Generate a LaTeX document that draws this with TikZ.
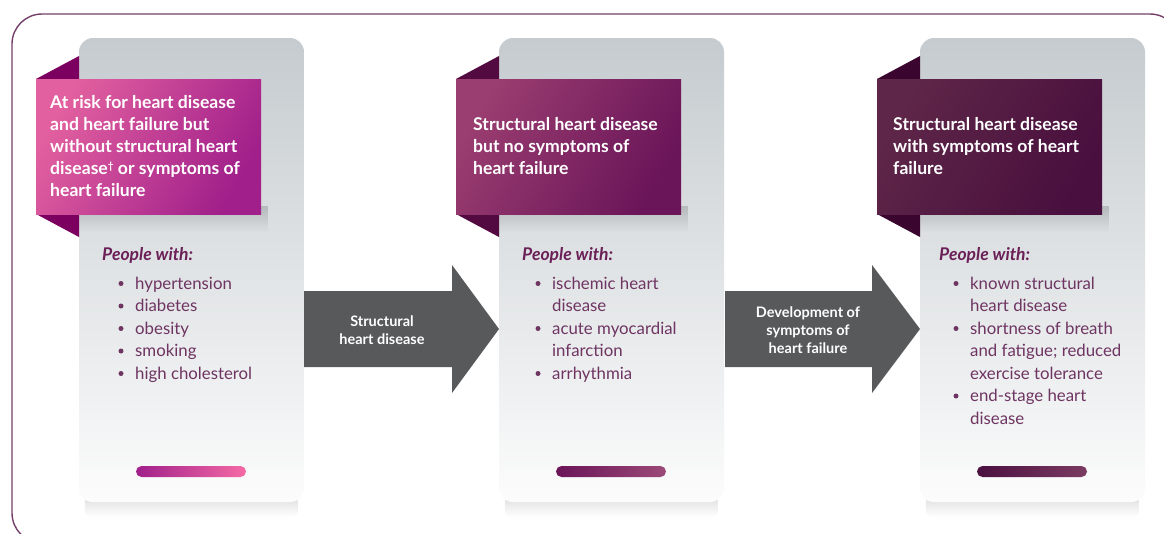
\documentclass[tikz,border=0pt]{standalone}
\usepackage{fontspec}
\setmainfont{Lato}
\usetikzlibrary{fadings}
\definecolor{framec}{HTML}{74406A}
\definecolor{cardtop}{HTML}{C5CBCF}
\definecolor{cardmid}{HTML}{E8EAEC}
\definecolor{cardbot}{HTML}{FCFCFC}
\definecolor{hAa}{HTML}{E2609F}
\definecolor{hAb}{HTML}{A01F8A}
\definecolor{fA}{HTML}{7C0060}
\definecolor{hBa}{HTML}{9A3D70}
\definecolor{hBb}{HTML}{6A1559}
\definecolor{fB}{HTML}{520A40}
\definecolor{hCa}{HTML}{5E2648}
\definecolor{hCb}{HTML}{490F3E}
\definecolor{fC}{HTML}{3A0630}
\definecolor{bAa}{HTML}{A0208A}
\definecolor{bAb}{HTML}{F56AA5}
\definecolor{bBa}{HTML}{6A1558}
\definecolor{bBb}{HTML}{9C4A78}
\definecolor{bCa}{HTML}{4A1040}
\definecolor{bCb}{HTML}{7B3C62}
\definecolor{arrowc}{HTML}{58595B}
\definecolor{pwc}{HTML}{6A1F56}
\definecolor{itemc}{HTML}{6E3462}
\tikzset{
  cardbox/.style={rounded corners=14pt, top color=cardtop, middle color=cardmid, bottom color=cardbot},
  htext/.style={anchor=base west, inner sep=0pt, text=white, font=\fontsize{17.6}{20}\selectfont\bfseries},
  pwtext/.style={anchor=base west, inner sep=0pt, text=pwc, font=\fontsize{17.5}{20}\selectfont\bfseries\itshape},
  itext/.style={anchor=base west, inner sep=0pt, text=itemc, font=\fontsize{16.8}{20}\selectfont},
  atext/.style={anchor=base, inner sep=0pt, text=white, font=\fontsize{14.5}{16}\selectfont\bfseries},
  bigarrow/.style={fill=arrowc},
}
\begin{document}
\begin{tikzpicture}[x=1pt,y=-1pt]
\useasboundingbox (0,0) rectangle (1164,533);
\fill[white] (0,0) rectangle (1164,533);
\begin{scope}
\clip (0,0) rectangle (1164,533);
\draw[framec, line width=1.4pt, rounded corners=30pt] (12,14) rectangle (1180,543);
\end{scope}

% cards
\foreach \x/\ha/\hb/\fc/\ba/\bb in {79/hAa/hAb/fA/bAa/bAb, 499/hBa/hBb/fB/bBa/bBb, 920/hCa/hCb/fC/bCa/bCb}{
  \fill[black, fill opacity=0.13, path fading=south, rounded corners=6pt] (\x+6,496) rectangle (\x+219,517);
  \shade[cardbox] (\x,38) rectangle (\x+225,502);
  \fill[black, fill opacity=0.16, path fading=south] (\x,206) rectangle (\x+189,232);
  \fill[\fc] (\x-43,79) -- (\x,56) -- (\x,79) -- cycle;
  \fill[\fc] (\x-43,214) -- (\x,237) -- (\x,214) -- cycle;
  \shade[top color=\ha, bottom color=\hb, shading angle=60] (\x-43,79) rectangle (\x+182,214);
  \shade[rounded corners=5.5pt, left color=\ba, right color=\bb] (\x+57,466) rectangle (\x+167,477);
}

% header texts
\foreach \t [count=\i] in {At risk for heart disease, and heart failure but, without structural heart, disease{\raisebox{0.45ex}{\fontsize{10}{10}\selectfont †}} or symptoms of, heart failure}
  \node[htext] (hA\i) at (50,{108+22*(\i-1)}) {\t};
\foreach \t [count=\i] in {Structural heart disease, but no symptoms of, heart failure}
  \node[htext] (hB\i) at (473,{130+22*(\i-1)}) {\t};
\foreach \t [count=\i] in {Structural heart disease, with symptoms of heart, failure}
  \node[htext] (hC\i) at (893,{130+22*(\i-1)}) {\t};

% People with
\node[pwtext] (pA) at (102,260) {People with:};
\node[pwtext] (pB) at (522,260) {People with:};
\node[pwtext] (pC) at (939,260) {People with:};

% items
\foreach \b/\t [count=\i] in {1/hypertension, 1/diabetes, 1/obesity, 1/smoking, 1/high cholesterol}{
  \node[itext] (iA\i) at (135,{289+22.5*(\i-1)}) {\t};
  \ifnum\b=1 \fill[itemc] (121,{289+22.5*(\i-1)-5.5}) circle (2.5pt);\fi
}
\foreach \b/\t [count=\i] in {1/ischemic heart, 0/disease, 1/acute myocardial, 0/infarction, 1/arrhythmia}{
  \node[itext] (iB\i) at (552,{289+22.5*(\i-1)}) {\t};
  \ifnum\b=1 \fill[itemc] (538,{289+22.5*(\i-1)-5.5}) circle (2.5pt);\fi
}
\foreach \b/\t [count=\i] in {1/known structural, 0/heart disease, 1/shortness of breath, 0/and fatigue; reduced, 0/exercise tolerance, 1/end-stage heart, 0/disease}{
  \node[itext] (iC\i) at (970,{289+22.5*(\i-1)}) {\t};
  \ifnum\b=1 \fill[itemc] (956,{289+22.5*(\i-1)-5.5}) circle (2.5pt);\fi
}

% arrows
\fill[bigarrow] (304,291) -- (452,291) -- (452,265) -- (499,329) -- (452,393) -- (452,367) -- (304,367) -- cycle;
\fill[bigarrow] (725,291) -- (872,291) -- (872,265) -- (920,329) -- (872,393) -- (872,367) -- (725,367) -- cycle;
\node[atext] (a1) at (382,326) {Structural};
\node[atext] (a2) at (382,344) {heart disease};
\node[atext] (b1) at (808,317) {Development of};
\node[atext] (b2) at (808,335) {symptoms of};
\node[atext] (b3) at (808,353) {heart failure};
\end{tikzpicture}
\end{document}
